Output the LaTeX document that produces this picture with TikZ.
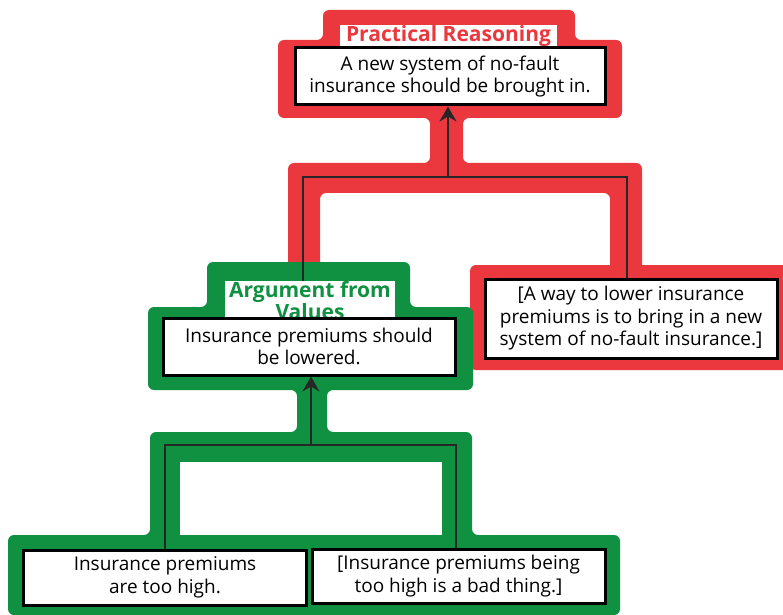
\documentclass[tikz,border=0pt]{standalone}
\usepackage{fontspec}
\setmainfont{Open Sans}
\usetikzlibrary{arrows.meta}
\definecolor{argred}{RGB}{234,56,62}
\definecolor{arggreen}{RGB}{16,145,66}
\begin{document}
\begin{tikzpicture}[x=1bp,y=-1bp,
  claim/.style={draw=black, line width=3bp, fill=white, align=center, inner sep=0pt,
    font=\fontsize{19bp}{22.5bp}\selectfont},
  schemelabel/.style={fill=white, inner sep=0pt, align=center,
    font=\bfseries\fontsize{21bp}{21bp}\selectfont},
  conn/.style={line width=1.8bp, draw=black!85},
  arr/.style={conn, -{Stealth[length=15bp,width=17bp,inset=5bp]}},
  redframe/.style={fill=argred, rounded corners=6bp},
  greenframe/.style={fill=arggreen, rounded corners=6bp}]
\fill[white] (0,0) rectangle (783,615);
\useasboundingbox (0,0) rectangle (783,615);

% red frames
\fill[redframe] (323,10) -- (575,10) -- (575,40) -- (622,40) -- (622,118) -- (463,118)
  -- (463,163) -- (642,163) -- (642,275) -- (610,275) -- (610,193) -- (320,193)
  -- (320,270) -- (288,270) -- (288,163) -- (430,163) -- (430,118) -- (278,118)
  -- (278,40) -- (323,40) -- cycle;
\fill[redframe] (470,265) rectangle (790,370);

% green frames
\fill[greenframe] (207,262) -- (410,262) -- (410,307) -- (473,307) -- (473,390)
  -- (327,390) -- (327,432) -- (472,432) -- (472,535) -- (620,535) -- (620,615)
  -- (8,615) -- (8,535) -- (150,535) -- (150,432) -- (297,432) -- (297,390)
  -- (148,390) -- (148,307) -- (207,307) -- cycle;
\fill[white] (180,462) rectangle (442,535);

% scheme labels
\node[schemelabel, text=argred, minimum width=217bp, minimum height=23bp] (prlab) at (448.5,36.5) {Practical Reasoning};
\node[schemelabel, text=arggreen, minimum width=170bp, minimum height=40bp, font=\bfseries\fontsize{21bp}{16bp}\selectfont] (avlab) at (310,301) {Argument from\\Values};

% claims
\node[claim, minimum width=310bp, minimum height=57bp] (top) at (450,76.5)
  {A new system of no-fault\\insurance should be brought in.};
\node[claim, minimum width=292bp, minimum height=79bp] (way) at (631,318.5)
  {[A way to lower insurance\\premiums is to bring in a new\\system of no-fault insurance.]};
\node[claim, minimum width=292bp, minimum height=57bp] (mid) at (309,346.5)
  {Insurance premiums should\\be lowered.};
\node[claim, minimum width=282bp, minimum height=55bp] (high) at (165,577.5)
  {Insurance premiums\\are too high.};
\node[claim, minimum width=293bp, minimum height=54bp] (bad) at (458.5,576)
  {[Insurance premiums being\\too high is a bad thing.]};

% connectors
\coordinate (rl) at (303,177);
\coordinate (rr) at (627,177);
\coordinate (rj) at (448,177);
\draw[conn] (rl |- avlab.north) -- (rl) -- (rr) -- (rr |- way.north);
\draw[arr] (rj) -- (rj |- top.south);

\coordinate (gl) at (165,445);
\coordinate (gr) at (456,445);
\coordinate (gj) at (311,445);
\draw[conn] (gl |- high.north) -- (gl) -- (gr) -- (gr |- bad.north);
\draw[arr] (gj) -- (gj |- mid.south);
\end{tikzpicture}
\end{document}
